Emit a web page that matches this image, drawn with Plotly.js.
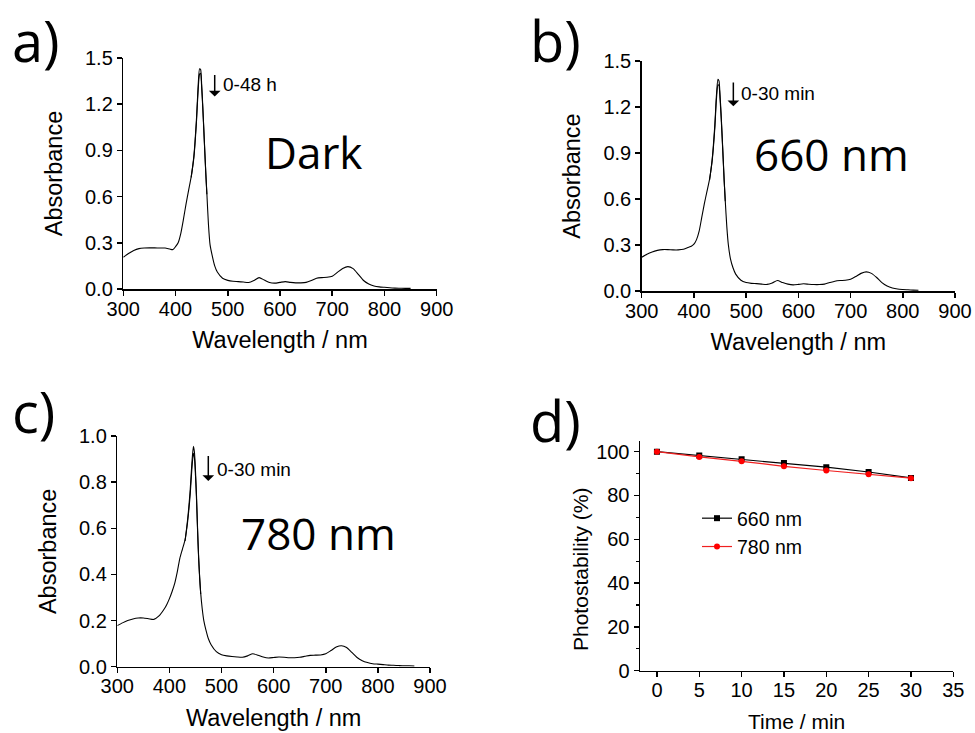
<!DOCTYPE html>
<html>
<head>
<meta charset="utf-8">
<script src="https://cdn.plot.ly/plotly-3.0.1.min.js"></script>
<style>html,body{margin:0;padding:0;background:#fff;}#chart{width:975px;height:733px;}</style>
</head>
<body>
<div id="chart"></div>
<script>
// ---- Data ----
const wavelength = [300,310,320,330,340,350,360,370,380,390,395,400,405,410,415,420,425,430,435,440,443,446,448,450,452,454,456,458,460,463,466,470,475,480,490,500,510,520,530,540,550,560,570,580,590,600,610,620,630,640,650,660,670,680,690,700,710,720,730,740,750,760,770,780,790,800,810,820,830,840,850];
const wavelengthC = [300,310,320,330,340,350,360,370,380,390,395,400,405,410,415,420,425,430,435,440,443,446,448,450,452,454,456,458,460,463,466,470,475,480,490,500,510,520,530,540,550,560,570,580,590,600,610,620,630,640,650,660,670,680,690,700,710,720,730,740,750,760,770,780,790,800,810,820,830,840,850,860,870];

// a) Dark, 0 h
const absDark0 = [0.206,0.230,0.250,0.262,0.266,0.267,0.267,0.266,0.266,0.258,0.256,0.275,0.300,0.360,0.450,0.550,0.640,0.730,0.860,1.100,1.300,1.430,1.425,1.330,1.200,1.050,0.900,0.750,0.620,0.420,0.290,0.220,0.150,0.110,0.070,0.056,0.050,0.048,0.045,0.042,0.055,0.074,0.058,0.042,0.038,0.043,0.048,0.043,0.040,0.040,0.043,0.055,0.070,0.074,0.076,0.083,0.108,0.133,0.145,0.132,0.095,0.055,0.032,0.020,0.014,0.011,0.008,0.006,0.005,0.004,0.004];
// a) Dark, 48 h (differs near the Soret peak)
const peakWl = [430,435,440,443,446,448,450,452,454,456,458,460];
const absDark48 = [0.725,0.850,1.080,1.275,1.395,1.400,1.310,1.185,1.040,0.890,0.745,0.615];

// b) 660 nm, 0 min
const abs660_0 = [0.220,0.240,0.255,0.265,0.270,0.270,0.268,0.268,0.272,0.285,0.292,0.305,0.335,0.390,0.480,0.570,0.650,0.730,0.860,1.080,1.270,1.380,1.370,1.280,1.160,1.020,0.870,0.720,0.590,0.420,0.300,0.210,0.150,0.110,0.070,0.055,0.050,0.048,0.045,0.043,0.052,0.068,0.055,0.045,0.040,0.043,0.047,0.044,0.042,0.042,0.045,0.055,0.064,0.068,0.070,0.077,0.095,0.115,0.125,0.115,0.088,0.055,0.033,0.020,0.013,0.010,0.008,0.006,0.005,null,null];
// b) 660 nm, 30 min
const abs660_30 = [0.725,0.850,1.060,1.245,1.345,1.340,1.255,1.140,1.005,0.860,0.715,0.585];

// c) 780 nm, 0 min
const abs780_0 = [0.178,0.190,0.200,0.207,0.211,0.211,0.208,0.205,0.220,0.250,0.270,0.295,0.325,0.360,0.410,0.470,0.510,0.550,0.640,0.770,0.880,0.955,0.930,0.850,0.740,0.600,0.480,0.390,0.320,0.250,0.200,0.160,0.120,0.095,0.065,0.052,0.047,0.044,0.042,0.041,0.047,0.056,0.050,0.042,0.038,0.040,0.042,0.041,0.039,0.039,0.041,0.045,0.049,0.050,0.051,0.056,0.070,0.085,0.091,0.083,0.062,0.040,0.026,0.018,0.013,0.011,0.009,0.007,0.006,0.005,0.004,0.004,0.003];
// c) 780 nm, 30 min
const abs780_30 = [0.545,0.630,0.750,0.855,0.925,0.905,0.830,0.725,0.590,0.472,0.385,0.315];

// d) photostability
const timeMin = [0,5,10,15,20,25,30];
const stab660 = [100,98.2,96.5,94.8,92.9,90.7,88.0];
const stab780 = [100,97.6,95.6,93.3,91.4,89.7,87.9];

const specTicksX = [300,400,500,600,700,800,900];
const specTicksAB = [0,0.3,0.6,0.9,1.2,1.5];
const specTicksC = [0,0.2,0.4,0.6,0.8,1.0];

// ---- Plot ----
const FONT = 'Liberation Sans, Arial, sans-serif';
const tickFont = {family:FONT, size:20, color:'#000'};
const titleFont = {family:FONT, size:23.5, color:'#000'};
const lineSpec = {color:'#000', width:1.1, shape:'spline', smoothing:0.6};

function specTrace(x, y, xa, ya){
  return {x:x, y:y, xaxis:xa, yaxis:ya, type:'scatter', mode:'lines', line:lineSpec, showlegend:false, hoverinfo:'skip'};
}

const traces = [
  specTrace(wavelength, absDark0, 'x', 'y'),
  specTrace(peakWl, absDark48, 'x', 'y'),
  specTrace(wavelength, abs660_0, 'x2', 'y2'),
  specTrace(peakWl, abs660_30, 'x2', 'y2'),
  specTrace(wavelengthC, abs780_0, 'x3', 'y3'),
  specTrace(peakWl, abs780_30, 'x3', 'y3'),
  {x:timeMin, y:stab660, xaxis:'x4', yaxis:'y4', type:'scatter', mode:'lines+markers', name:'660 nm',
   line:{color:'#000', width:1.2}, marker:{symbol:'square', size:6, color:'#000'}},
  {x:timeMin, y:stab780, xaxis:'x4', yaxis:'y4', type:'scatter', mode:'lines+markers', name:'780 nm',
   line:{color:'#f02020', width:1.2}, marker:{symbol:'circle', size:6, color:'#ff0000'}}
];

function xAxis(domain, anchor, title, range, ticks, tf, ttf, so){
  return {domain:domain, anchor:anchor, range:range, tickvals:ticks, showline:true, linecolor:'#000', linewidth:1.5,
    ticks:'outside', ticklen:5, tickwidth:1.5, tickcolor:'#000', showgrid:false, zeroline:false, ticklabelstandoff:-4,
    tickfont:tf||tickFont, title:{text:title, font:ttf||titleFont, standoff:so||13}};
}
function yAxis(domain, anchor, title, range, ticks, fmt, tf, ttf, so){
  return {domain:domain, anchor:anchor, range:range, tickvals:ticks, tickformat:fmt, showline:true, linecolor:'#000', linewidth:1.5,
    ticks:'outside', ticklen:5, tickwidth:1.5, tickcolor:'#000', showgrid:false, zeroline:false,
    tickfont:tf||tickFont, title:{text:title, font:ttf||titleFont, standoff:so||16}};
}

const W = 975, H = 733;
const px = v => v / W;
const py = v => 1 - v / H;

const dTickFont = {family:FONT, size:20, color:'#000'};
const dTitleFont = {family:FONT, size:21, color:'#000'};
const bigFont = {family:'Open Sans, sans-serif', size:56, color:'#000'};
const labelFont = {family:'Open Sans, sans-serif', size:44, color:'#000'};
const noteFont = {family:FONT, size:19, color:'#000'};

const layout = {
  width:W, height:H, margin:{l:0,r:0,t:0,b:0}, paper_bgcolor:'#fff', plot_bgcolor:'rgba(0,0,0,0)',
  showlegend:true,
  legend:{x:px(697), y:py(499), xanchor:'left', yanchor:'top', bgcolor:'rgba(0,0,0,0)',
    font:{family:FONT, size:19.5, color:'#000'}, tracegroupgap:0, itemwidth:30},
  xaxis: xAxis([px(123.3), px(436.7)], 'y', 'Wavelength / nm', [300,900], specTicksX),
  yaxis: yAxis([py(289), py(58)], 'x', 'Absorbance', [0,1.5], specTicksAB, '.1f'),
  xaxis2: xAxis([px(641.7), px(955)], 'y2', 'Wavelength / nm', [300,900], specTicksX),
  yaxis2: yAxis([py(291), py(61)], 'x2', 'Absorbance', [0,1.5], specTicksAB, '.1f'),
  xaxis3: xAxis([px(117.3), px(430)], 'y3', 'Wavelength / nm', [300,900], specTicksX),
  yaxis3: yAxis([py(666.7), py(436)], 'x3', 'Absorbance', [0,1.0], specTicksC, '.1f'),
  xaxis4: xAxis([px(640), px(953.3)], 'y4', 'Time / min', [-2,35], [0,5,10,15,20,25,30,35], dTickFont, dTitleFont, 14),
  yaxis4: Object.assign(yAxis([py(670.7), py(440.7)], 'x4', '', [0,105], [0,20,40,60,80,100], 'd', dTickFont),
    {minor:{tickvals:[10,30,50,70,90], ticks:'outside', ticklen:3, tickwidth:1.2, tickcolor:'#000'}}),
  annotations:[
    {xref:'paper', yref:'paper', x:px(10), y:py(40), xanchor:'left', yanchor:'middle', text:'a)', showarrow:false, font:bigFont},
    {xref:'paper', yref:'paper', x:px(528), y:py(40), xanchor:'left', yanchor:'middle', text:'b)', showarrow:false, font:bigFont},
    {xref:'paper', yref:'paper', x:px(10), y:py(411), xanchor:'left', yanchor:'middle', text:'c)', showarrow:false, font:bigFont},
    {xref:'paper', yref:'paper', x:px(528), y:py(420), xanchor:'left', yanchor:'middle', text:'d)', showarrow:false, font:bigFont},
    {xref:'paper', yref:'paper', x:px(313), y:py(152), xanchor:'center', yanchor:'middle', text:'Dark', showarrow:false, font:labelFont},
    {xref:'paper', yref:'paper', x:px(831), y:py(154), xanchor:'center', yanchor:'middle', text:'660 nm', showarrow:false, font:labelFont},
    {xref:'paper', yref:'paper', x:px(318), y:py(533), xanchor:'center', yanchor:'middle', text:'780 nm', showarrow:false, font:labelFont},
    {xref:'paper', yref:'paper', x:px(580), y:py(570), xanchor:'center', yanchor:'middle', textangle:-90, text:'Photostability (%)', showarrow:false, font:dTitleFont},
    // arrows and time-range notes
    {xref:'x', yref:'y', x:475, y:1.25, axref:'x', ayref:'y', ax:475, ay:1.40, showarrow:true, arrowhead:1, arrowsize:1.3, arrowwidth:1.5, arrowcolor:'#000', text:''},
    {xref:'x', yref:'y', x:487, y:1.33, xanchor:'left', yanchor:'middle', text:'0-48 h', showarrow:false, font:noteFont},
    {xref:'x2', yref:'y2', x:475.5, y:1.205, axref:'x2', ayref:'y2', ax:475.5, ay:1.37, showarrow:true, arrowhead:1, arrowsize:1.3, arrowwidth:1.5, arrowcolor:'#000', text:''},
    {xref:'x2', yref:'y2', x:487, y:1.29, xanchor:'left', yanchor:'middle', text:'0-30 min', showarrow:false, font:noteFont},
    {xref:'x3', yref:'y3', x:474.6, y:0.805, axref:'x3', ayref:'y3', ax:474.6, ay:0.92, showarrow:true, arrowhead:1, arrowsize:1.3, arrowwidth:1.5, arrowcolor:'#000', text:''},
    {xref:'x3', yref:'y3', x:488, y:0.855, xanchor:'left', yanchor:'middle', text:'0-30 min', showarrow:false, font:noteFont}
  ]
};

Plotly.newPlot('chart', traces, layout, {displayModeBar:false, staticPlot:true});
</script>
</body>
</html>
